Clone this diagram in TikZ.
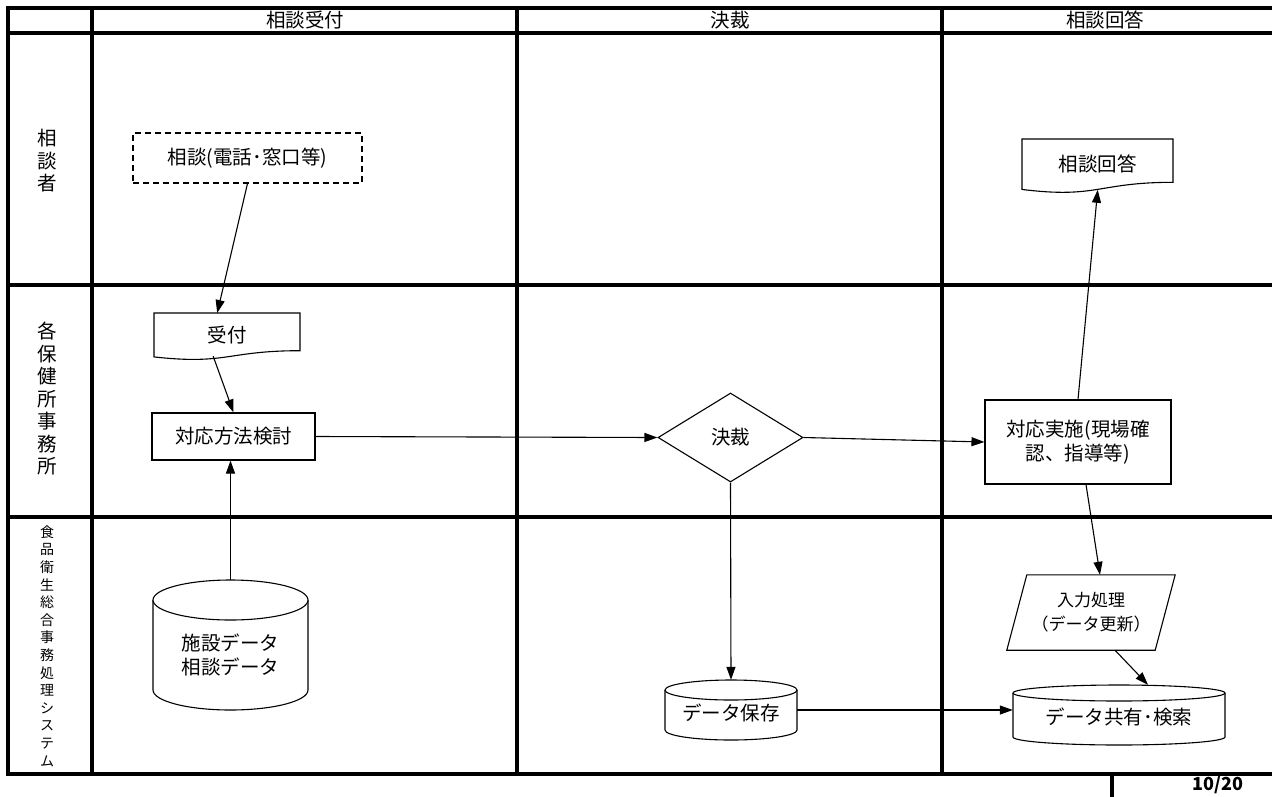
\documentclass[tikz,border=0pt]{standalone}
\usepackage{fontspec}
\setmainfont{Noto Sans CJK JP}
\usetikzlibrary{arrows.meta,shapes.geometric,calc}
\newcommand\docshape[6]{%
  \draw[shp] (#2,#3) -- ({#2+#4},#3) -- ({#2+#4},{#3+0.802*#5})
     .. controls ({#2+#4/2},{#3+0.802*#5}) and ({#2+#4/2},{#3+1.1075*#5}) .. (#2,{#3+0.934*#5}) -- cycle;
  \node[txt, minimum width=#4, minimum height={0.933*#5}, inner sep=0, anchor=north west] (#1) at (#2,#3) {#6};
}
\newcommand\cylshape[8]{% name L T w h ry text textshift
  \pgfmathsetmacro\cL{#2}\pgfmathsetmacro\cR{#2+#4}\pgfmathsetmacro\cX{#2+#4/2}%
  \pgfmathsetmacro\cT{#3+#6}\pgfmathsetmacro\cB{#3+#5-#6}%
  \pgfmathsetmacro\kx{0.5523*#4/2}\pgfmathsetmacro\ky{0.5523*#6}%
  \draw[shp] (\cL,\cT) -- (\cL,\cB) .. controls (\cL,\cB+\ky) and (\cX-\kx,\cB+#6) .. (\cX,\cB+#6)
     .. controls (\cX+\kx,\cB+#6) and (\cR,\cB+\ky) .. (\cR,\cB) -- (\cR,\cT);
  \draw[shp] (\cX,\cT) ellipse [x radius={#4/2}, y radius={#6}];
  \node[minimum width=#4, minimum height=#5, inner sep=0] (#1) at (\cX,{#3+#5/2}) {};
  \node[txt] at ($(#1.center)+(0,#8)$) {#7};
}
\begin{document}
\begin{tikzpicture}[x=1pt,y=-1pt,
  frame/.style={line width=4pt, line cap=rect},
  conn/.style={line width=1.1pt, -{Triangle[length=13pt,width=9pt]}},
  shp/.style={draw, line width=1.1pt, fill=white},
  txt/.style={font=\fontsize{19.5}{24}\selectfont, align=center},
  hdr/.style={font=\fontsize{19.5}{21}\selectfont},
  lane/.style={font=\fontsize{19.5}{22.5}\selectfont, align=center, inner sep=0},
  lanesm/.style={font=\fontsize{14}{17.6}\selectfont, align=center, inner sep=0},
]
\useasboundingbox (0,0) rectangle (1272,796);
\fill[white] (0,0) rectangle (1272,796);
% frame
\draw[frame] (8,8) -- (1272,8);
\draw[frame] (8,33) -- (1272,33);
\draw[frame] (8,285) -- (1272,285);
\draw[frame] (8,517) -- (1272,517);
\draw[frame] (8,774) -- (1272,774);
\foreach \x in {8,92,517,942} \draw[frame] (\x,8) -- (\x,774);
\draw[frame] (1112,774) -- (1112,800);
% headers
\node[hdr] (h1) at (305,20) {相談受付};
\node[hdr] (h2) at (730,20) {決裁};
\node[hdr] (h3) at (1105,20) {相談回答};
% lane labels
\node[lane] (l1) at (47,161) {相\\談\\者};
\node[lane] (l2) at (47,399) {各\\保\\健\\所\\事\\務\\所};
\node[lanesm] (l3) at (47,646) {食\\品\\衛\\生\\総\\合\\事\\務\\処\\理\\シ\\ス\\テ\\ム};
% shapes
\node[txt, draw, dash pattern=on 6pt off 4pt, line width=1.1pt, minimum width=229, minimum height=50, inner sep=0] (sd) at (247.5,158) {相談(電話･窓口等)};
\docshape{ka}{1022}{139}{151}{54}{相談回答}
\docshape{uk}{154}{313}{146}{47}{受付}
\node[txt, draw, line width=1.1pt, minimum width=163, minimum height=47, inner sep=0] (kt) at (233.5,436.5) {対応方法検討};
\node[txt, draw, line width=1.1pt, shape=diamond, minimum width=145, minimum height=89, inner sep=0] (ks) at (730.5,437.5) {決裁};
\node[txt, draw, line width=1.1pt, minimum width=186, minimum height=84, inner sep=0] (js) at (1078,442) {対応実施(現場確\\認、指導等)};
\cylshape{db}{153}{580}{155}{130}{20}{施設データ\\相談データ}{10}
\cylshape{hz}{665}{680}{132}{60}{10}{データ保存}{3}
\cylshape{ky}{1013}{685}{212}{60}{8}{データ共有･検索}{2}
\node[minimum width=168, minimum height=75, inner sep=0] (ny) at (1091,612.5) {};
\draw[shp] (ny.south west) -- ($(ny.north west)+(20,0)$) -- (ny.north east) -- ($(ny.south east)+(-20,0)$) -- cycle;
\node[txt, font=\fontsize{17}{24}\selectfont] at (ny.center) {入力処理\\（データ更新）};
% page number
\node[font=\bfseries\fontsize{18}{18}\selectfont, inner sep=0] (pg) at (1218,785) {10/20};
% connectors
\draw[conn] (sd.south) -- ($(uk.north)+(-10,0)$);
\draw[conn] ($(uk.south)+(-14,-1)$) -- (kt.north);
\draw[conn] (db.north) -- (db.north |- kt.south);
\draw[conn] (kt.east) -- (ks.west);
\draw[conn] (ks.east) -- (js.west);
\draw[conn] (ks.south) -- (hz.north);
\draw[conn] (js.north) -- (ka.south);
\draw[conn] ($(js.south)+(8,0)$) -- ($(ny.north)+(9,0)$);
\draw[conn] ($(ny.south)+(24,0)$) -- ($(ky.north)+(29,0)$);
\draw[conn] (hz.east) -- (hz.east -| ky.west);
\end{tikzpicture}
\end{document}
